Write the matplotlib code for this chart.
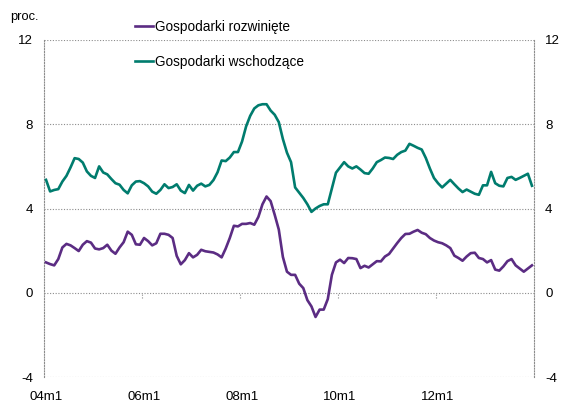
import numpy as np
import matplotlib
matplotlib.use("Agg")
from matplotlib import pyplot as plt

# monthly data, 2004m1 - 2013m12 (proc.)
developed = [1.44, 1.36, 1.3, 1.6, 2.15, 2.32, 2.25, 2.12, 1.98, 2.28,
             2.45, 2.38, 2.1, 2.06, 2.12, 2.28, 2.0, 1.85, 2.15, 2.4,
             2.9, 2.75, 2.3, 2.28, 2.6, 2.45, 2.25, 2.35, 2.8, 2.8,
             2.75, 2.6, 1.75, 1.35, 1.55, 1.88, 1.68, 1.8, 2.04, 1.97,
             1.94, 1.91, 1.82, 1.68, 2.1, 2.6, 3.18, 3.15, 3.27, 3.27,
             3.31, 3.23, 3.6, 4.2, 4.57, 4.35, 3.7, 3.0, 1.7, 1.0,
             0.85, 0.85, 0.43, 0.22, -0.35, -0.65, -1.15, -0.8, -0.8, -0.3,
             0.85, 1.44, 1.57, 1.41, 1.65, 1.64, 1.6, 1.17, 1.28, 1.2,
             1.35, 1.5, 1.49, 1.72, 1.84, 2.1, 2.36, 2.6, 2.79, 2.8,
             2.9, 2.98, 2.85, 2.78, 2.6, 2.48, 2.4, 2.35, 2.25, 2.12,
             1.76, 1.65, 1.52, 1.72, 1.88, 1.9, 1.65, 1.6, 1.44, 1.55,
             1.1, 1.05, 1.25, 1.5, 1.6, 1.3, 1.15, 1.0, 1.15, 1.3]

emerging = [5.36, 4.81, 4.88, 4.92, 5.28, 5.55, 5.95, 6.39, 6.35, 6.18,
            5.76, 5.55, 5.45, 6.0, 5.71, 5.62, 5.4, 5.2, 5.13, 4.88,
            4.72, 5.1, 5.28, 5.3, 5.2, 5.05, 4.8, 4.7, 4.88, 5.15,
            4.97, 5.02, 5.15, 4.85, 4.73, 5.12, 4.85, 5.08, 5.18, 5.05,
            5.12, 5.35, 5.72, 6.28, 6.25, 6.42, 6.68, 6.68, 7.18, 7.9,
            8.4, 8.75, 8.9, 8.95, 8.95, 8.65, 8.45, 8.1, 7.3, 6.65,
            6.2, 5.0, 4.75, 4.5, 4.2, 3.84, 4.0, 4.12, 4.2, 4.2,
            4.95, 5.7, 5.95, 6.2, 6.0, 5.9, 6.0, 5.85, 5.68, 5.65,
            5.9, 6.2, 6.3, 6.42, 6.4, 6.35, 6.55, 6.68, 6.75, 7.07,
            6.98, 6.88, 6.8, 6.4, 5.9, 5.45, 5.2, 5.0, 5.18, 5.36,
            5.15, 4.95, 4.78, 4.9, 4.8, 4.7, 4.65, 5.1, 5.1, 5.74,
            5.2, 5.08, 5.05, 5.45, 5.5, 5.36, 5.45, 5.55, 5.65, 5.08]

tick_labels = ["04m1", "06m1", "08m1", "10m1", "12m1"]
y_ticks = [-4, 0, 4, 8, 12]

plt.rcParams['font.family'] = ['Liberation Sans', 'DejaVu Sans']
plt.rcParams['font.size'] = 9.5

purple = "#5b2c83"
green = "#007c6e"
grid_col = "#8c8c8c"

fig = plt.figure(figsize=(5.61, 4.03), dpi=100)
ax = fig.add_axes([44 / 561, 1 - 377 / 403, 490 / 561, 337 / 403])

x = np.arange(len(developed))
ax.plot(x, developed, color=purple, lw=1.9, label="Gospodarki rozwinięte", zorder=3)
ax.plot(x, emerging, color=green, lw=1.9, label="Gospodarki wschodzące", zorder=3)

ax.set_xlim(-0.5, len(developed) - 0.5)
ax.set_ylim(-4, 12)
ax.set_yticks(y_ticks)
ax.set_yticklabels([str(v) for v in y_ticks])
ax.set_xticks(np.arange(0, len(developed), 24))
ax.set_xticklabels(tick_labels)
ax.tick_params(axis="both", length=0, pad=10, colors="black")
ax.tick_params(axis="y", labelright=True, pad=8)

# dotted horizontal grid and dotted side frame
for v in y_ticks:
    ax.axhline(v, color=grid_col, lw=0.8, ls=(0, (1, 1.5)), zorder=1)
for side in ["top", "bottom"]:
    ax.spines[side].set_visible(False)
for side in ["left", "right"]:
    ax.spines[side].set_color(grid_col)
    ax.spines[side].set_linewidth(0.8)
    ax.spines[side].set_linestyle((0, (1, 1.5)))

# small category ticks on the zero line
ax.vlines(np.arange(24, len(developed), 24) - 0.5, -0.25, 0, color=grid_col,
          lw=0.8, ls=(0, (1, 1.5)), zorder=1)

fig.text(10 / 561, 1 - 17 / 403, "proc.", va="center", ha="left", fontsize=9.3)

fig.legend(loc="upper left", bbox_to_anchor=(135 / 561, 1 - 20 / 403),
           frameon=False, handlelength=1.3, handletextpad=0.2,
           labelspacing=1.55, borderpad=0, borderaxespad=0, fontsize=9.8)

fig.savefig("out.png", dpi=100)
